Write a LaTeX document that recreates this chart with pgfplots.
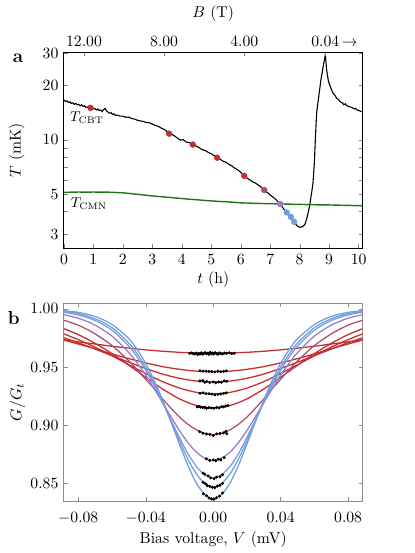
\documentclass[border=0pt]{standalone}
\usepackage{pgfplots}
\pgfplotsset{compat=1.18}
\definecolor{cred}{RGB}{200,42,45}
\definecolor{cmauve}{RGB}{168,78,112}
\definecolor{cpurple}{RGB}{155,122,198}
\definecolor{cblue}{RGB}{112,158,222}
\definecolor{cgreen}{RGB}{32,118,22}
\begin{document}
\begin{tikzpicture}
% ---------------- panel a ----------------
\begin{axis}[name=top, at={(0,0)}, anchor=south west, scale only axis,
  width=190pt, height=125pt,
  xmin=0, xmax=10.13, ymin=2.5, ymax=30.6, ymode=log,
  xtick={0,1,2,3,4,5,6,7,8,9,10}, xtick pos=bottom,
  ytick={3,4,5,6,7,8,9,10,20,30}, yticklabels={3,,5,,,,,10,20,30},
  ytick pos=both, minor y tick num=0,
  tick align=inside, major tick length=2.5pt,
  xlabel={$t$ (h)}, ylabel={$T$ (mK)},
  xlabel style={at={(axis description cs:0.5,0)}, anchor=center, yshift=-20pt},
  ylabel style={at={(axis description cs:-0.158,0.5)}, anchor=center},
  axis line style={line width=0.6pt}]
\addplot[black, line width=0.7pt] coordinates {
(0.00,16.6)(0.05,16.3)(0.10,16.4)(0.15,16.1)(0.20,16.2)(0.25,15.9)(0.30,16.0)(0.35,15.7)
(0.40,15.9)(0.45,15.6)(0.50,15.7)(0.55,15.4)(0.60,15.6)(0.65,15.3)(0.70,15.4)(0.75,15.1)
(0.80,15.2)(0.90,15.0)(1.00,14.8)(1.05,14.9)(1.10,14.6)(1.15,14.8)(1.20,14.5)(1.25,14.6)
(1.30,14.3)(1.35,14.7)(1.40,14.9)(1.45,14.4)(1.50,14.2)(1.55,14.0)(1.60,14.1)(1.65,13.8)
(1.70,13.9)(1.75,13.6)(1.80,13.7)(1.90,13.5)(2.00,13.5)(2.10,13.3)(2.20,13.35)(2.30,13.1)
(2.40,13.0)(2.50,12.8)(2.60,12.7)(2.70,12.6)(2.80,12.45)(2.90,12.4)(3.00,12.2)(3.10,12.0)
(3.20,11.85)(3.30,11.6)(3.40,11.4)(3.50,11.1)(3.57,10.8)(3.65,10.75)(3.75,10.5)(3.85,10.2)
(3.95,9.95)(4.05,10.0)(4.15,9.7)(4.25,9.65)(4.37,9.4)(4.50,9.2)(4.60,9.0)(4.70,8.8)
(4.80,8.7)(4.90,8.5)(5.00,8.35)(5.10,8.15)(5.20,7.95)(5.30,7.8)(5.40,7.6)(5.50,7.5)
(5.60,7.3)(5.70,7.15)(5.80,6.95)(5.90,6.8)(6.00,6.6)(6.12,6.3)(6.20,6.15)(6.30,6.0)
(6.40,5.85)(6.50,5.75)(6.60,5.6)(6.70,5.45)(6.80,5.26)(6.90,5.1)(7.00,4.95)(7.10,4.8)
(7.20,4.65)(7.34,4.40)(7.45,4.15)(7.56,3.95)(7.63,3.85)(7.70,3.74)(7.81,3.51)(7.90,3.35)
(7.95,3.30)(8.02,3.27)(8.10,3.30)(8.18,3.40)(8.25,3.70)(8.33,4.25)(8.40,5.0)(8.45,5.7)
(8.50,7.5)(8.53,9.9)(8.56,12.5)(8.58,14.3)(8.65,17.5)(8.72,21.4)(8.80,25.5)(8.87,29.5)
(8.92,24.0)(8.98,20.9)(9.05,19.5)(9.10,18.6)(9.15,17.9)(9.20,17.6)(9.25,17.0)(9.30,16.8)
(9.38,16.2)(9.45,16.0)(9.50,15.6)(9.55,15.8)(9.60,15.4)(9.65,15.3)(9.72,15.2)(9.80,15.0)
(9.85,14.8)(9.90,14.9)(9.95,14.6)(10.00,14.5)(10.06,14.4)(10.10,14.3)};
\addplot[cgreen, line width=0.9pt] coordinates {
(0.0,5.10)(0.25,5.12)(0.5,5.13)(0.75,5.12)(1.0,5.13)(1.25,5.12)(1.5,5.12)(1.75,5.10)
(2.0,5.08)(2.25,5.03)(2.5,4.98)(2.75,4.93)(3.0,4.88)(3.25,4.84)(3.5,4.80)(3.75,4.76)
(4.0,4.72)(4.25,4.68)(4.5,4.65)(4.75,4.61)(5.0,4.58)(5.25,4.55)(5.5,4.53)(5.75,4.50)
(6.0,4.47)(6.5,4.44)(7.0,4.42)(7.5,4.40)(8.0,4.38)(8.5,4.36)(9.0,4.35)(9.5,4.33)
(10.0,4.31)(10.13,4.30)};
\addplot[only marks, mark=*, mark size=1.8pt, cred, mark options={draw=cred, fill=cred}]
 coordinates {(0.90,15.0)(3.57,10.8)(4.37,9.4)(5.20,7.95)(6.12,6.3)};
\addplot[only marks, mark=*, mark size=1.8pt, cmauve, mark options={draw=cmauve, fill=cmauve}]
 coordinates {(6.80,5.26)};
\addplot[only marks, mark=*, mark size=1.8pt, cpurple, mark options={draw=cpurple, fill=cpurple}]
 coordinates {(7.34,4.40)};
\addplot[only marks, mark=*, mark size=1.8pt, cblue, mark options={draw=cblue, fill=cblue}]
 coordinates {(7.56,3.95)(7.70,3.74)(7.81,3.51)};
\node[anchor=west, font=\small] at (axis cs:0.02,13.2) {$T_{\mathrm{CBT}}$};
\node[anchor=west, font=\small] at (axis cs:0.05,4.43) {$T_{\mathrm{CMN}}$};
\end{axis}
\begin{axis}[at={(0,0)}, anchor=south west, scale only axis,
  width=190pt, height=125pt,
  xmin=0, xmax=10.13, ymin=0, ymax=1,
  axis x line*=top, axis y line=none,
  xtick={0.68,3.40,6.12,8.87},
  xticklabels={12.00,8.00,4.00,{0.04\rlap{\,$\rightarrow$}}},
  tick align=inside, major tick length=2.5pt,
  xlabel={$B$ (T)},
  xlabel style={at={(axis description cs:0.5,1)}, anchor=center, yshift=24.5pt},
  axis line style={line width=0.6pt}]
\addplot[draw=none] coordinates {(0,0)(1,1)};
\end{axis}
\node[font=\large\bfseries] at (-29.2pt,121.2pt) {a};
% ---------------- panel b ----------------
\begin{axis}[at={(0,-34.8pt)}, anchor=north west, scale only axis,
  width=190pt, height=126pt,
  xmin=-0.0885, xmax=0.0885, ymin=0.835, ymax=1.005,
  xtick={-0.08,-0.04,0,0.04,0.08}, ytick={0.85,0.90,0.95,1.00},
  scaled ticks=false,
  /pgf/number format/fixed, /pgf/number format/fixed zerofill,
  /pgf/number format/precision=2,
  xticklabel style={yshift=-3.5pt},
  tick pos=both, tick align=inside, major tick length=2.5pt,
  axis line style={black!45, line width=0.6pt}, tick style={black!45},
  xlabel={Bias voltage, $V$ (mV)}, ylabel={$G/G_t$},
  xlabel style={at={(axis description cs:0.5,0)}, anchor=center, yshift=-24.8pt},
  ylabel style={at={(axis description cs:-0.156,0.5)}, anchor=center}]
% fit curves
\addplot[cred, line width=0.8pt, smooth] coordinates {
(-0.09,0.9738)(-0.08,0.9717)(-0.07,0.9698)(-0.06,0.9679)(-0.05,0.9663)(-0.04,0.9648)(-0.03,0.9636)(-0.02,0.9627)(-0.01,0.9622)(0,0.9620)
(0.01,0.9622)(0.02,0.9627)(0.03,0.9636)(0.04,0.9648)(0.05,0.9663)(0.06,0.9679)(0.07,0.9698)(0.08,0.9717)(0.09,0.9738)};
\addplot[cred, line width=0.8pt, smooth] coordinates {
(-0.09,0.9738)(-0.08,0.9698)(-0.07,0.9658)(-0.06,0.9613)(-0.05,0.9573)(-0.04,0.9536)(-0.03,0.9504)(-0.02,0.9481)(-0.01,0.9465)(0,0.9460)
(0.01,0.9465)(0.02,0.9481)(0.03,0.9504)(0.04,0.9536)(0.05,0.9573)(0.06,0.9613)(0.07,0.9658)(0.08,0.9698)(0.09,0.9738)};
\addplot[cred, line width=0.8pt, smooth] coordinates {
(-0.09,0.9759)(-0.08,0.9709)(-0.07,0.9655)(-0.06,0.9598)(-0.05,0.9542)(-0.04,0.9488)(-0.03,0.9440)(-0.02,0.9404)(-0.01,0.9380)(0,0.9372)
(0.01,0.9380)(0.02,0.9404)(0.03,0.9440)(0.04,0.9488)(0.05,0.9542)(0.06,0.9598)(0.07,0.9655)(0.08,0.9709)(0.09,0.9759)};
\addplot[cred, line width=0.8pt, smooth] coordinates {
(-0.09,0.9793)(-0.08,0.9736)(-0.07,0.9671)(-0.06,0.9597)(-0.05,0.9520)(-0.04,0.9445)(-0.03,0.9375)(-0.02,0.9320)(-0.01,0.9283)(0,0.9270)
(0.01,0.9283)(0.02,0.9320)(0.03,0.9375)(0.04,0.9445)(0.05,0.9520)(0.06,0.9597)(0.07,0.9671)(0.08,0.9736)(0.09,0.9793)};
\addplot[cred, line width=0.8pt, smooth] coordinates {
(-0.09,0.9838)(-0.08,0.9779)(-0.07,0.9704)(-0.06,0.9616)(-0.05,0.9516)(-0.04,0.9412)(-0.03,0.9312)(-0.02,0.9227)(-0.01,0.9170)(0,0.9150)
(0.01,0.9170)(0.02,0.9227)(0.03,0.9312)(0.04,0.9412)(0.05,0.9516)(0.06,0.9616)(0.07,0.9704)(0.08,0.9779)(0.09,0.9838)};
\addplot[cmauve, line width=0.8pt, smooth] coordinates {
(-0.09,0.9909)(-0.08,0.9860)(-0.07,0.9785)(-0.06,0.9685)(-0.05,0.9553)(-0.045,0.9476)(-0.04,0.9395)(-0.035,0.9315)(-0.03,0.9227)(-0.025,0.9146)(-0.02,0.9071)(-0.015,0.9009)(-0.01,0.8962)(-0.005,0.8931)(0,0.8920)
(0.005,0.8931)(0.01,0.8962)(0.015,0.9009)(0.02,0.9071)(0.025,0.9146)(0.03,0.9227)(0.035,0.9315)(0.04,0.9395)(0.045,0.9476)(0.05,0.9553)(0.06,0.9685)(0.07,0.9785)(0.08,0.9860)(0.09,0.9909)};
\addplot[cpurple, line width=0.8pt, smooth] coordinates {
(-0.09,0.9954)(-0.08,0.9920)(-0.07,0.9860)(-0.06,0.9766)(-0.05,0.9624)(-0.045,0.9533)(-0.04,0.9432)(-0.035,0.9315)(-0.03,0.9194)(-0.025,0.9072)(-0.02,0.8955)(-0.015,0.8852)(-0.01,0.8770)(-0.005,0.8718)(0,0.8700)
(0.005,0.8718)(0.01,0.8770)(0.015,0.8852)(0.02,0.8955)(0.025,0.9072)(0.03,0.9194)(0.035,0.9315)(0.04,0.9432)(0.045,0.9533)(0.05,0.9624)(0.06,0.9766)(0.07,0.9860)(0.08,0.9920)(0.09,0.9954)};
\addplot[cblue, line width=0.8pt, smooth] coordinates {
(-0.09,0.9974)(-0.08,0.9948)(-0.07,0.9900)(-0.06,0.9817)(-0.05,0.9680)(-0.045,0.9585)(-0.04,0.9472)(-0.035,0.9342)(-0.03,0.9197)(-0.025,0.9044)(-0.02,0.8895)(-0.015,0.8757)(-0.01,0.8647)(-0.005,0.8576)(0,0.8550)
(0.005,0.8576)(0.01,0.8647)(0.015,0.8757)(0.02,0.8895)(0.025,0.9044)(0.03,0.9197)(0.035,0.9342)(0.04,0.9472)(0.045,0.9585)(0.05,0.9680)(0.06,0.9817)(0.07,0.9900)(0.08,0.9948)(0.09,0.9974)};
\addplot[cblue, line width=0.8pt, smooth] coordinates {
(-0.09,0.9980)(-0.08,0.9959)(-0.07,0.9915)(-0.06,0.9839)(-0.05,0.9706)(-0.045,0.9613)(-0.04,0.9497)(-0.035,0.9357)(-0.03,0.9201)(-0.025,0.9035)(-0.02,0.8866)(-0.015,0.8710)(-0.01,0.8583)(-0.005,0.8501)(0,0.8470)
(0.005,0.8501)(0.01,0.8583)(0.015,0.8710)(0.02,0.8866)(0.025,0.9035)(0.03,0.9201)(0.035,0.9357)(0.04,0.9497)(0.045,0.9613)(0.05,0.9706)(0.06,0.9839)(0.07,0.9915)(0.08,0.9959)(0.09,0.9980)};
\addplot[cblue, line width=0.8pt, smooth] coordinates {
(-0.09,0.9986)(-0.08,0.9970)(-0.07,0.9935)(-0.06,0.9866)(-0.05,0.9744)(-0.045,0.9650)(-0.04,0.9531)(-0.035,0.9385)(-0.03,0.9216)(-0.025,0.9029)(-0.02,0.8838)(-0.015,0.8657)(-0.01,0.8505)(-0.005,0.8406)(0,0.8370)
(0.005,0.8406)(0.01,0.8505)(0.015,0.8657)(0.02,0.8838)(0.025,0.9029)(0.03,0.9216)(0.035,0.9385)(0.04,0.9531)(0.045,0.9650)(0.05,0.9744)(0.06,0.9866)(0.07,0.9935)(0.08,0.9970)(0.09,0.9986)};
% measured points
\addplot[only marks, mark=*, mark size=0.75pt, black] coordinates {
(-0.0140,0.9618)(-0.0128,0.9622)(-0.0118,0.9615)(-0.0108,0.9612)(-0.0100,0.9620)(-0.0092,0.9608)(-0.0085,0.9616)(-0.0078,0.9612)(-0.0070,0.9623)(-0.0062,0.9610)(-0.0055,0.9618)(-0.0048,0.9625)(-0.0040,0.9614)(-0.0032,0.9620)(-0.0025,0.9609)(-0.0018,0.9626)(-0.0010,0.9615)(-0.0003,0.9621)(0.0004,0.9612)(0.0012,0.9624)(0.0020,0.9616)(0.0028,0.9610)(0.0036,0.9622)(0.0045,0.9617)(0.0055,0.9613)(0.0068,0.9620)(0.0080,0.9618)(0.0095,0.9623)(0.0110,0.9615)(0.0125,0.9619)
(-0.0078,0.9468)(-0.0060,0.9466)(-0.0042,0.9465)(-0.0025,0.9463)(-0.0008,0.9462)(0.0010,0.9458)(0.0028,0.9466)(0.0045,0.9460)(0.0062,0.9464)(0.0078,0.9467)
(-0.0080,0.9380)(-0.0062,0.9385)(-0.0050,0.9370)(-0.0038,0.9376)(-0.0020,0.9368)(0.0,0.9373)(0.0015,0.9366)(0.0032,0.9372)(0.0048,0.9370)(0.0065,0.9382)(0.0080,0.9378)
(-0.0078,0.9275)(-0.0060,0.9279)(-0.0042,0.9272)(-0.0025,0.9271)(-0.0008,0.9268)(0.0010,0.9262)(0.0028,0.9266)(0.0045,0.9269)(0.0062,0.9274)(0.0078,0.9278)
(-0.0095,0.9158)(-0.0085,0.9162)(-0.0075,0.9156)(-0.0062,0.9152)(-0.0050,0.9155)(-0.0040,0.9145)(-0.0025,0.9152)(-0.0010,0.9149)(0.0005,0.9147)(0.0020,0.9154)(0.0035,0.9150)(0.0050,0.9160)(0.0062,0.9158)(0.0075,0.9166)(0.0088,0.9170)
(-0.0080,0.8945)(-0.0060,0.8932)(-0.0040,0.8925)(-0.0020,0.8922)(0.0,0.8912)(0.0020,0.8926)(0.0040,0.8930)(0.0060,0.8935)(0.0075,0.8948)(0.0080,0.8928)
(-0.0040,0.8712)(-0.0020,0.8698)(0.0,0.8702)(0.0015,0.8695)(0.0030,0.8708)(0.0045,0.8703)(0.0065,0.8722)
(-0.0060,0.8590)(-0.0050,0.8580)(-0.0030,0.8565)(-0.0015,0.8548)(0.0005,0.8542)(0.0020,0.8555)(0.0040,0.8558)(0.0055,0.8575)
(-0.0060,0.8510)(-0.0045,0.8498)(-0.0035,0.8482)(-0.0020,0.8475)(-0.0005,0.8468)(0.0010,0.8465)(0.0025,0.8478)(0.0040,0.8485)(0.0055,0.8500)
(-0.0058,0.8412)(-0.0040,0.8395)(-0.0025,0.8375)(-0.0010,0.8368)(0.0005,0.8365)(0.0020,0.8378)(0.0038,0.8392)(0.0055,0.8418)};
\end{axis}
\node[font=\large\bfseries] at (-32pt,-44.3pt) {b};
\pgfresetboundingbox
\path (-40.7pt,-193.9pt) rectangle (223.3pt,158.1pt);
\end{tikzpicture}
\end{document}
